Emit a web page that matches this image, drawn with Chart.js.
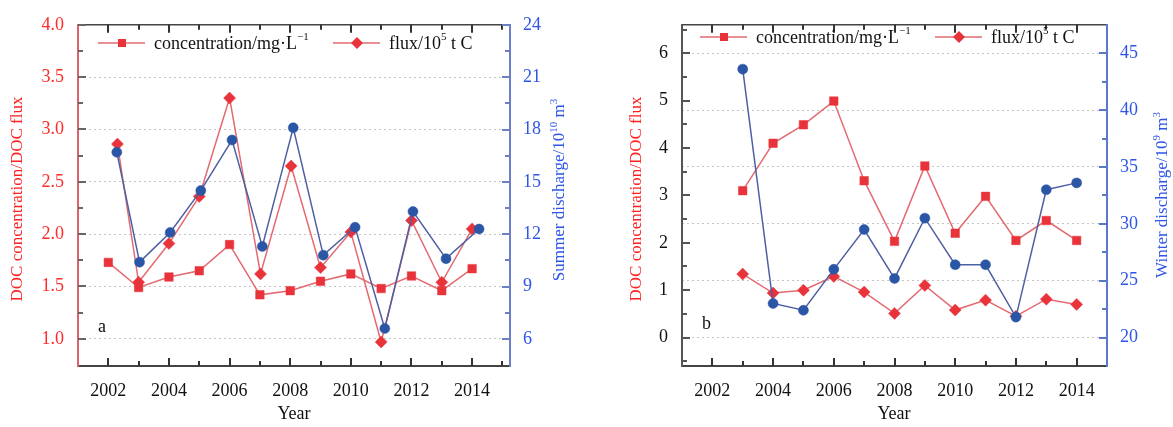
<!DOCTYPE html>
<html>
<head>
<meta charset="utf-8">
<script src="https://cdn.jsdelivr.net/npm/chart.js@4.4.1/dist/chart.umd.min.js"></script>
<style>
html, body { margin: 0; padding: 0; background: #fff; }
#wrap { position: relative; width: 1173px; height: 427px; overflow: hidden; }
.panel { position: absolute; top: 0; height: 427px; }
</style>
</head>
<body>
<div id="wrap">
  <div class="panel" style="left:0;width:590px"><canvas id="chartA" width="590" height="427"></canvas></div>
  <div class="panel" style="left:590px;width:583px"><canvas id="chartB" width="583" height="427"></canvas></div>
</div>
<script>
// ---- panel a: summer ----
const A_YEARS = [2002, 2003, 2004, 2005, 2006, 2007, 2008, 2009, 2010, 2011, 2012, 2013, 2014];
const A_CONC = [1.73, 1.49, 1.59, 1.65, 1.90, 1.42, 1.46, 1.55, 1.62, 1.48, 1.60, 1.46, 1.67];
const A_FLUX_X = [2002.3, 2003, 2004, 2005, 2006, 2007.02, 2008.03, 2009, 2010, 2011, 2012, 2013, 2014];
const A_FLUX = [2.86, 1.54, 1.91, 2.36, 3.30, 1.62, 2.65, 1.68, 2.02, 0.97, 2.13, 1.54, 2.05];
const A_DIS_X = [2002.28, 2003.03, 2004.04, 2005.05, 2006.08, 2007.08, 2008.1, 2009.09, 2010.14, 2011.12, 2012.05, 2013.14, 2014.23];
const A_DIS = [16.7, 10.4, 12.1, 14.5, 17.4, 11.3, 18.1, 10.8, 12.4, 6.6, 13.3, 10.6, 12.3];

const A_LEFT_TICKS = [1.0, 1.5, 2.0, 2.5, 3.0, 3.5, 4.0];
const A_LEFT_MINOR = [1.25, 1.75, 2.25, 2.75, 3.25, 3.75];
const A_RIGHT_TICKS = [6, 9, 12, 15, 18, 21, 24];
const A_RIGHT_MINOR = [7.5, 10.5, 13.5, 16.5, 19.5, 22.5];

// ---- panel b: winter ----
const B_YEARS = [2003, 2004, 2005, 2006, 2007, 2008, 2009, 2010, 2011, 2012, 2013, 2014];
const B_CONC = [3.10, 4.10, 4.49, 4.99, 3.31, 2.03, 3.62, 2.20, 2.98, 2.05, 2.47, 2.05];
const B_FLUX = [1.34, 0.94, 1.00, 1.29, 0.96, 0.51, 1.10, 0.58, 0.79, 0.45, 0.81, 0.70];
const B_DIS = [43.6, 23.0, 22.4, 26.0, 29.5, 25.2, 30.5, 26.4, 26.4, 21.8, 33.0, 33.6];

const B_LEFT_TICKS = [0, 1, 2, 3, 4, 5, 6];
const B_LEFT_MINOR = [-0.5, 0.5, 1.5, 2.5, 3.5, 4.5, 5.5, 6.5];
const B_RIGHT_TICKS = [20, 25, 30, 35, 40, 45];
const B_RIGHT_MINOR = [22.5, 27.5, 32.5, 37.5, 42.5];

const X_TICKS = [2002, 2004, 2006, 2008, 2010, 2012, 2014];
const A_X_MINOR = [2003, 2005, 2007, 2009, 2011, 2013, 2015];
const B_X_MINOR = [2003, 2005, 2007, 2009, 2011, 2013];

const FONT = '"Liberation Serif", "Times New Roman", serif';
const RED = '#e8333b';
const RED_LINE = '#e36a70';
const BLUE = '#2b56a6';
const BLUE_LINE = '#4f5fa4';
const BLUE_TEXT = '#2f55e8';

Chart.defaults.font.family = FONT;
Chart.defaults.font.size = 18;
Chart.defaults.color = '#111';

function pts(xs, ys) {
    return xs.map((x, i) => ({ x: x, y: ys[i] }));
}

// text with superscripts: parts = [[text, isSup], ...]
function richWidth(ctx, parts, size) {
    let w = 0;
    parts.forEach(([t, sup]) => {
        ctx.font = (sup ? Math.round(size * 0.62) : size) + 'px ' + FONT;
        w += ctx.measureText(t).width;
    });
    return w;
}

function drawRich(ctx, parts, x, y, size) {
    let cx = x;
    parts.forEach(([t, sup]) => {
        ctx.font = (sup ? Math.round(size * 0.62) : size) + 'px ' + FONT;
        ctx.fillText(t, cx, sup ? y - size * 0.36 : y);
        cx += ctx.measureText(t).width;
    });
}

function drawMarker(ctx, style, x, y) {
    ctx.fillStyle = style === 'circle' ? BLUE : RED;
    ctx.beginPath();
    if (style === 'rect') {
        ctx.rect(x - 4, y - 4, 8, 8);
    } else if (style === 'rectRot') {
        ctx.moveTo(x, y - 6); ctx.lineTo(x + 6, y); ctx.lineTo(x, y + 6); ctx.lineTo(x - 6, y);
        ctx.closePath();
    } else {
        ctx.arc(x, y, 4.5, 0, Math.PI * 2);
    }
    ctx.fill();
}

// inward tick marks on all four frame sides (settings kept in a closure)
function frameTicks(axes) {
    return {
        id: 'frameTicks',
        afterDraw(chart) {
            const ctx = chart.ctx;
            const area = chart.chartArea;
            ctx.save();
            ctx.lineWidth = 2;
            axes.forEach(ax => {
                const scale = chart.scales[ax.id];
                ctx.strokeStyle = ax.color;
                const mark = (v, len) => {
                    const p = Math.round(scale.getPixelForValue(v));
                    ctx.beginPath();
                    if (ax.side === 'bottom') { ctx.moveTo(p, area.bottom); ctx.lineTo(p, area.bottom - len); }
                    if (ax.side === 'top') { ctx.moveTo(p, area.top); ctx.lineTo(p, area.top + len); }
                    if (ax.side === 'left') { ctx.moveTo(area.left, p); ctx.lineTo(area.left + len, p); }
                    if (ax.side === 'right') { ctx.moveTo(area.right, p); ctx.lineTo(area.right - len, p); }
                    ctx.stroke();
                };
                ax.major.forEach(v => mark(v, 8));
                ax.minor.forEach(v => mark(v, 5));
            });
            ctx.restore();
        }
    };
}

// titles, legend, panel letter
function panelText(o) {
    return {
        id: 'panelText',
        afterDraw(chart) {
            const ctx = chart.ctx;
            ctx.save();
            ctx.textBaseline = 'middle';
            ctx.textAlign = 'left';

            // rotated axis titles
            o.titles.forEach(t => {
                ctx.save();
                ctx.translate(t.x, t.y);
                ctx.rotate(-Math.PI / 2);
                ctx.fillStyle = t.color;
                const w = richWidth(ctx, t.parts, 17);
                drawRich(ctx, t.parts, -w / 2, 0, 17);
                ctx.restore();
            });

            // x title and panel letter
            ctx.fillStyle = '#111';
            ctx.font = '18px ' + FONT;
            ctx.textAlign = 'center';
            ctx.fillText('Year', o.yearX, 414);
            ctx.textAlign = 'left';
            ctx.fillText(o.letter, o.letterX, o.letterY);

            // legend
            o.legend.forEach(item => {
                ctx.strokeStyle = RED_LINE;
                ctx.lineWidth = 1.5;
                ctx.beginPath();
                ctx.moveTo(item.x, o.legendY);
                ctx.lineTo(item.x + 47, o.legendY);
                ctx.stroke();
                drawMarker(ctx, item.style, item.x + 24, o.legendY);
                ctx.fillStyle = '#111';
                drawRich(ctx, item.parts, item.x + 56, o.legendY + 1, 18);
            });
            ctx.restore();
        }
    };
}

const CONC_LABEL = [['concentration/mg\u00b7L', false], ['\u22121', true]];
const FLUX_LABEL = [['flux/10', false], ['5', true], [' t C', false]];

function fixedTicks(values) {
    return scale => { scale.ticks = values.map(v => ({ value: v })); };
}

function makeChart(id, p) {
    const series = (label, data, axis, style, color, line, radius) => ({
        label: label,
        data: data,
        yAxisID: axis,
        borderColor: line,
        borderWidth: 1.5,
        backgroundColor: color,
        pointBackgroundColor: color,
        pointBorderColor: color,
        pointBorderWidth: 0.5,
        pointStyle: style,
        pointRadius: radius,
        pointHoverRadius: radius,
        tension: 0,
        fill: false
    });

    return new Chart(document.getElementById(id), {
        type: 'line',
        data: {
            datasets: [
                series('discharge', p.dis, 'yR', 'circle', BLUE, BLUE_LINE, 5),
                series('flux', p.flux, 'yL', 'rectRot', RED, RED_LINE, 6),
                series('concentration', p.conc, 'yL', 'rect', RED, RED_LINE, 6)
            ]
        },
        options: {
            responsive: false,
            animation: false,
            layout: { padding: { top: 14, left: 0, right: 0, bottom: 0 } },
            plugins: {
                legend: { display: false },
                tooltip: { enabled: false }
            },
            scales: {
                x: {
                    type: 'linear',
                    position: 'bottom',
                    min: 2001,
                    max: p.xMax,
                    afterBuildTicks: fixedTicks(X_TICKS),
                    afterFit: s => { s.height = 61; },
                    grid: { display: false, drawTicks: false },
                    border: { display: true, color: '#444', width: 2 },
                    ticks: { padding: 14, color: '#111', callback: v => String(v), maxRotation: 0 }
                },
                x2: {
                    type: 'linear',
                    position: 'top',
                    min: 2001,
                    max: p.xMax,
                    afterFit: s => { s.height = 0; },
                    grid: { display: false, drawTicks: false },
                    border: { display: true, color: '#444', width: 1.5 },
                    ticks: { display: false }
                },
                yL: {
                    type: 'linear',
                    position: 'left',
                    min: p.left.min,
                    max: p.left.max,
                    afterBuildTicks: fixedTicks(p.left.ticks),
                    afterFit: s => { s.width = p.left.width; },
                    grid: { display: p.left.grid, drawTicks: false, color: '#c4c4c4', lineWidth: 1 },
                    border: { display: true, color: p.left.border, width: 2, dash: [2, 3] },
                    ticks: { padding: 14, color: p.left.color, callback: p.left.fmt }
                },
                yR: {
                    type: 'linear',
                    position: 'right',
                    min: p.right.min,
                    max: p.right.max,
                    afterBuildTicks: fixedTicks(p.right.ticks),
                    afterFit: s => { s.width = p.right.width; },
                    grid: { display: p.right.grid, drawOnChartArea: p.right.grid, drawTicks: false, color: '#c4c4c4', lineWidth: 1 },
                    border: { display: true, color: p.right.border, width: 2, dash: [2, 3] },
                    ticks: { padding: 13, color: BLUE_TEXT, callback: v => String(v) }
                }
            }
        },
        plugins: [frameTicks(p.tickAxes), panelText(p.text)]
    });
}

makeChart('chartA', {
    conc: pts(A_YEARS, A_CONC),
    flux: pts(A_FLUX_X, A_FLUX),
    dis: pts(A_DIS_X, A_DIS),
    xMax: 2015.25,
    left: { min: 0.74, max: 4.0, ticks: A_LEFT_TICKS, width: 78, grid: true, border: '#e0606c', color: '#ff2a2a', fmt: v => v.toFixed(1) },
    right: { min: 4.45, max: 24, ticks: A_RIGHT_TICKS, width: 80, grid: false, border: '#6c7ec6' },
    tickAxes: [
        { id: 'x', side: 'bottom', color: '#333', major: X_TICKS, minor: A_X_MINOR },
        { id: 'x2', side: 'top', color: '#333', major: X_TICKS, minor: A_X_MINOR },
        { id: 'yL', side: 'left', color: '#666', major: A_LEFT_TICKS, minor: A_LEFT_MINOR },
        { id: 'yR', side: 'right', color: '#6c7ec6', major: A_RIGHT_TICKS, minor: A_RIGHT_MINOR }
    ],
    text: {
        titles: [
            { x: 18, y: 199, color: '#ff2020', parts: [['DOC concentration/DOC flux', false]] },
            { x: 560, y: 190, color: BLUE_TEXT, parts: [['Summer discharge/10', false], ['10', true], [' m', false], ['3', true]] }
        ],
        yearX: 294,
        letter: 'a', letterX: 98, letterY: 327,
        legendY: 43,
        legend: [
            { x: 98, style: 'rect', parts: CONC_LABEL },
            { x: 333, style: 'rectRot', parts: FLUX_LABEL }
        ]
    }
});

makeChart('chartB', {
    conc: pts(B_YEARS, B_CONC),
    flux: pts(B_YEARS, B_FLUX),
    dis: pts(B_YEARS, B_DIS),
    xMax: 2015,
    left: { min: -0.6, max: 6.6, ticks: B_LEFT_TICKS, width: 92, grid: false, border: '#555', color: '#111', fmt: v => String(v) },
    right: { min: 17.5, max: 47.5, ticks: B_RIGHT_TICKS, width: 66, grid: true, border: '#5a78c8' },
    tickAxes: [
        { id: 'x', side: 'bottom', color: '#333', major: X_TICKS, minor: B_X_MINOR },
        { id: 'x2', side: 'top', color: '#333', major: X_TICKS, minor: B_X_MINOR },
        { id: 'yL', side: 'left', color: '#555', major: B_LEFT_TICKS, minor: B_LEFT_MINOR },
        { id: 'yR', side: 'right', color: '#5a78c8', major: B_RIGHT_TICKS, minor: B_RIGHT_MINOR }
    ],
    text: {
        titles: [
            { x: 47, y: 199, color: '#ff2020', parts: [['DOC concentration/DOC flux', false]] },
            { x: 573, y: 195, color: BLUE_TEXT, parts: [['Winter discharge/10', false], ['9', true], [' m', false], ['3', true]] }
        ],
        yearX: 304,
        letter: 'b', letterX: 112, letterY: 324,
        legendY: 37,
        legend: [
            { x: 110, style: 'rect', parts: CONC_LABEL },
            { x: 345, style: 'rectRot', parts: FLUX_LABEL }
        ]
    }
});
</script>
</body>
</html>
